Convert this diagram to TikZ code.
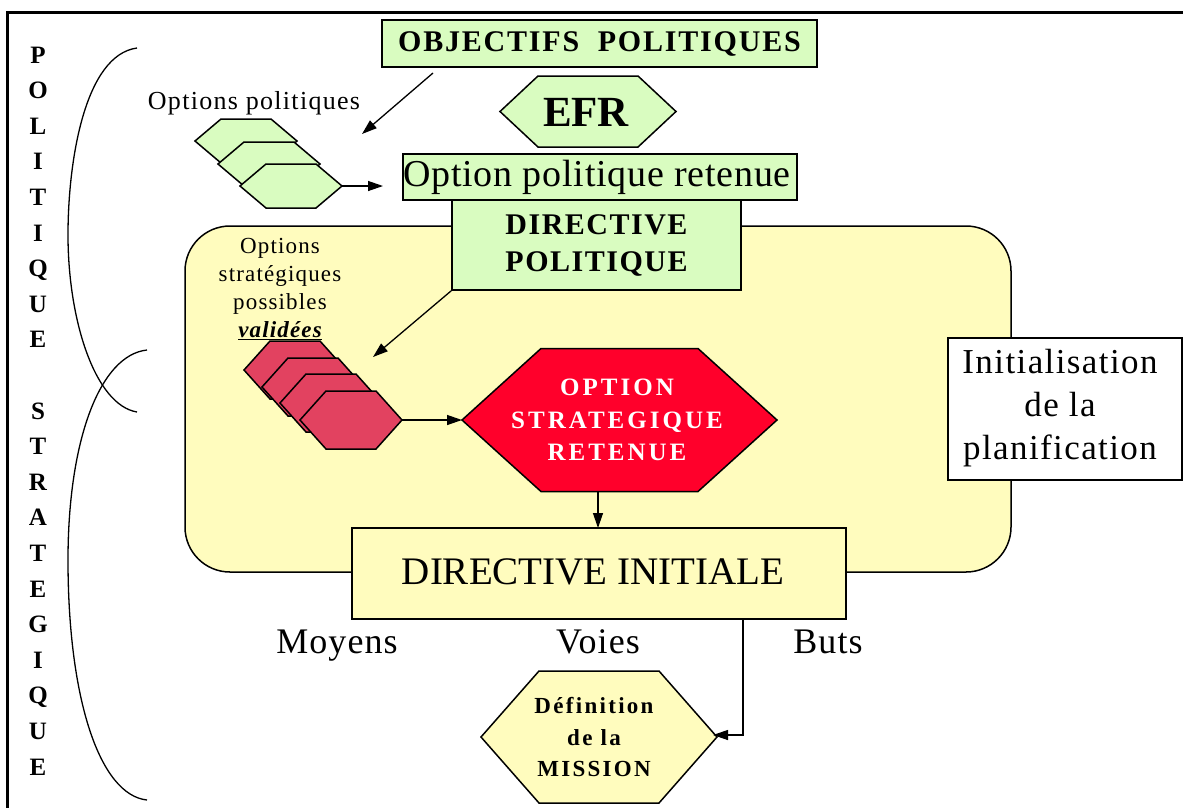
\documentclass[tikz,border=0pt]{standalone}
\usepackage{fontspec}
\setmainfont{Liberation Serif}
\usetikzlibrary{arrows.meta,calc}
\definecolor{lgreen}{RGB}{217,252,192}
\definecolor{lyellow}{RGB}{255,252,190}
\definecolor{pinkred}{RGB}{226,66,96}
\definecolor{brightred}{RGB}{255,0,43}
\newcommand\fsz[2]{\fontsize{#1}{#2}\selectfont}
\newcommand\trk[1]{\addfontfeature{LetterSpace=#1}}
\newcommand\hexshape[7]{%
  \draw[#7] ({#2-#4},{#3}) -- ({#2-#5},{#3-#6}) -- ({#2+#5},{#3-#6}) -- ({#2+#4},{#3}) -- ({#2+#5},{#3+#6}) -- ({#2-#5},{#3+#6}) -- cycle;
  \coordinate (#1-w) at ({#2-#4},{#3});
  \coordinate (#1-e) at ({#2+#4},{#3});
  \coordinate (#1-n) at ({#2},{#3-#6});
  \coordinate (#1-s) at ({#2},{#3+#6});
}
\tikzset{
  shapeline/.style={draw=black, line width=1.5pt},
  gbox/.style={shapeline, fill=lgreen, inner sep=0pt, align=center},
  ybox/.style={shapeline, fill=lyellow, inner sep=0pt, align=center},
  wbox/.style={shapeline, fill=white, inner sep=0pt, align=center},
  txt/.style={inner sep=0pt, align=center},
  vletter/.style={inner sep=0pt, anchor=base, font=\fsz{25}{25}\bfseries},
  lbl/.style={inner sep=0pt, anchor=base, font=\fsz{36}{40}\trk{3}},
  arr/.style={line width=1.3pt, -{Triangle[length=15pt,width=10pt]}},
  bracket/.style={line width=1.3pt},
}
\begin{document}
\begin{tikzpicture}[x=1pt,y=-1pt]
\useasboundingbox (0,0) rectangle (1183,807);
% frame
\draw[line width=3pt] (7,812) -- (7,12) -- (1190,12);
% brackets
\draw[bracket] (137,48) .. controls (85,55) and (68,160) .. (68,235) .. controls (68,320) and (95,405) .. (137,412);
\draw[bracket] (147,350) .. controls (100,355) and (68,440) .. (68,560) .. controls (68,700) and (100,795) .. (147,800);
% vertical words
\foreach \l [count=\i from 0] in {P,O,L,I,T,I,Q,U,E}
  \node[vletter] (vp\i) at (38,{55+8+\i*35.6}) {\l};
\foreach \l [count=\i from 10] in {S,T,R,A,T,E,G,I,Q,U,E}
  \node[vletter] (vs\i) at (38,{55+8+\i*35.6}) {\l};
% top part
\node[gbox, minimum width=435pt, minimum height=47pt, font=\fsz{30}{34}\bfseries\trk{6}] (obj) at (599.5,43.5) {OBJECTIFS\ \ POLITIQUES};
\hexshape{efr}{588}{111.5}{88}{50}{35.5}{shapeline, fill=lgreen}
\node[txt, font=\fsz{43}{43}\bfseries] (efrtxt) at (586,112) {EFR};
\node[gbox, minimum width=394pt, minimum height=46pt] (opr) at (600,177) {};
\node[txt, font=\fsz{38}{40}\trk{2}] (oprtxt) at (597,177) {Option politique retenue};
\node[txt, font=\fsz{26}{30}\trk{5}] (optpol) at (254,103) {Options politiques};
\hexshape{gh1}{246}{141}{51}{25}{22}{shapeline, fill=lgreen}
\hexshape{gh2}{269}{164}{51}{25}{22}{shapeline, fill=lgreen}
\hexshape{gh3}{291}{186}{51}{25}{22}{shapeline, fill=lgreen}
% yellow area
\draw[shapeline, fill=lyellow, rounded corners=45pt] (185,226) rectangle (1011,572);
\node[gbox, minimum width=289pt, minimum height=90pt, font=\fsz{30}{37}\bfseries\trk{5}] (dp) at (596.5,245) {DIRECTIVE\\POLITIQUE};
\node[wbox, minimum width=234pt, minimum height=142pt] (init) at (1065,409) {};
\node[txt, font=\fsz{35}{43}\trk{4}] (inittxt) at (1060,408) {Initialisation\\de la\\planification};
\node[txt, font=\fsz{23}{28}\trk{5}] (optstr) at (280,289) {Options\\stratégiques\\possibles\\\underline{\bfseries\itshape validées}};
\hexshape{rh1}{295}{370}{51}{25}{29}{shapeline, fill=pinkred}
\hexshape{rh2}{313}{387}{51}{25}{29}{shapeline, fill=pinkred}
\hexshape{rh3}{331}{403}{51}{25}{29}{shapeline, fill=pinkred}
\hexshape{rh4}{351}{420}{51}{25}{29}{shapeline, fill=pinkred}
\hexshape{osr}{619.5}{420}{157.5}{78.5}{71.5}{shapeline, fill=brightred}
\node[txt, text=white, font=\fsz{25}{32.5}\bfseries\trk{12}] (osrtxt) at (617,420) {OPTION\\STRATEGIQUE\\RETENUE};
% bottom part
\node[ybox, minimum width=494pt, minimum height=91pt] (di) at (599,573.5) {};
\node[txt, font=\fsz{39}{40}] (ditxt) at (593,572) {DIRECTIVE INITIALE};
\node[lbl] (moy) at (337,653) {Moyens};
\node[lbl] (voi) at (598,653) {Voies};
\node[lbl] (but) at (828,653) {Buts};
\hexshape{mis}{599}{737}{118}{60}{66}{shapeline, fill=lyellow}
\node[txt, font=\fsz{23}{31.5}\bfseries\trk{10}] (mistxt) at (594,737) {Définition\\de la\\MISSION};
% connectors
\coordinate (a1s) at (433,73);
\coordinate (a1e) at (362,134);
\draw[arr] (a1s) -- (a1e);
\coordinate (a2e) at (383,186);
\draw[arr] (gh3-e) -- (a2e);
\coordinate (a3e) at (373,357);
\draw[arr] (dp.south west) -- (a3e);
\draw[arr] (rh4-e) -- (osr-w);
\coordinate (a5s) at (598,491.5);
\coordinate (a5e) at (598,528);
\draw[arr] (a5s) -- (a5e);
\coordinate (a6s) at (743,619);
\coordinate (a6e) at (713,735);
\draw[arr] (a6s) |- (a6e);
\end{tikzpicture}
\end{document}
